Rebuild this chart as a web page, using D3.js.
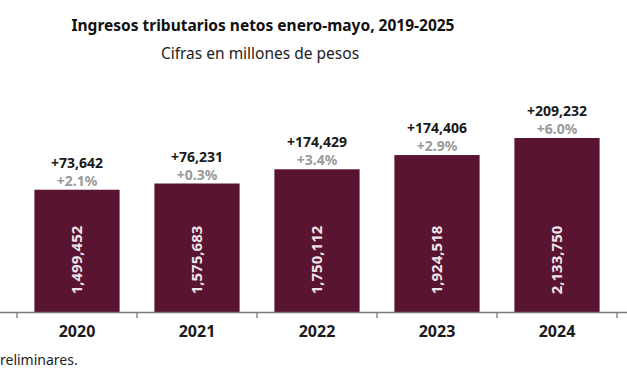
<!DOCTYPE html>
<html>
<head>
<meta charset="utf-8">
<script src="https://cdn.jsdelivr.net/npm/d3@7"></script>
<style>
  body { margin: 0; background: #fff; }
  svg { display: block; font-family: "Noto Sans", "Open Sans", sans-serif; }
</style>
</head>
<body>
<div id="chart"></div>
<script>
var years = ["2020", "2021", "2022", "2023", "2024"]
var totals = [1499452, 1575683, 1750112, 1924518, 2133750]
var changes = ["+73,642", "+76,231", "+174,429", "+174,406", "+209,232"]
var pcts = ["+2.1%", "+0.3%", "+3.4%", "+2.9%", "+6.0%"]

var width = 627, height = 376
var baseY = 312

var svg = d3.select("#chart").append("svg")
  .attr("width", width)
  .attr("height", height)

var data = years.map(function (d, i) {
  return { year: d, total: totals[i], change: changes[i], pct: pcts[i] }
})

var xScale = d3.scaleBand()
  .domain(years)
  .range([17, 617])
  .paddingInner(0.29)
  .paddingOuter(0.145)

var yScale = d3.scaleLinear()
  .domain([0, d3.max(totals)])
  .range([baseY, 138])

// title
svg.append("text")
  .attr("x", 263).attr("y", 31)
  .attr("text-anchor", "middle")
  .style("font-size", "15.5px").style("font-weight", "bold").style("fill", "#111")
  .text("Ingresos tributarios netos enero-mayo, 2019-2025")

svg.append("text")
  .attr("x", 260).attr("y", 59)
  .attr("text-anchor", "middle")
  .style("font-size", "15.5px").style("fill", "#222")
  .text("Cifras en millones de pesos")

var g = svg.append("g")

g.selectAll("rect")
  .data(data)
  .enter()
  .append("rect")
    .attr("x", d => xScale(d.year))
    .attr("y", d => yScale(d.total))
    .attr("width", xScale.bandwidth())
    .attr("height", d => baseY - yScale(d.total))
    .style("fill", "#581430")

// value inside bar, rotated
g.selectAll(".inner")
  .data(data)
  .enter()
  .append("text")
    .attr("class", "inner")
    .attr("transform", d => "translate(" + (xScale(d.year) + xScale.bandwidth() / 2 + 5) + ",260) rotate(-90)")
    .attr("text-anchor", "middle")
    .style("font-size", "15px").style("font-weight", "bold").style("fill", "#f0e4ea")
    .text(d => d3.format(",")(d.total))

g.selectAll(".chg")
  .data(data)
  .enter()
  .append("text")
    .attr("class", "chg")
    .attr("x", d => xScale(d.year) + xScale.bandwidth() / 2)
    .attr("y", d => yScale(d.total) - 22)
    .attr("text-anchor", "middle")
    .style("font-size", "14px").style("font-weight", "bold").style("fill", "#1a1a1a")
    .text(d => d.change)

g.selectAll(".pct")
  .data(data)
  .enter()
  .append("text")
    .attr("class", "pct")
    .attr("x", d => xScale(d.year) + xScale.bandwidth() / 2)
    .attr("y", d => yScale(d.total) - 4)
    .attr("text-anchor", "middle")
    .style("font-size", "14px").style("font-weight", "bold").style("fill", "#9a9a9a")
    .text(d => d.pct)

// axis line spans the whole width
svg.append("line")
  .attr("x1", 0).attr("x2", width)
  .attr("y1", baseY + 0.5).attr("y2", baseY + 0.5)
  .style("stroke", "#7a7a7a").style("stroke-width", 1.3)

var tickX = years.map(d => xScale(d) - xScale.step() * xScale.paddingInner() / 2)
tickX.push(xScale(years[years.length - 1]) + xScale.bandwidth() + xScale.step() * xScale.paddingInner() / 2)

svg.selectAll(".tick")
  .data(tickX)
  .enter()
  .append("line")
    .attr("x1", d => d).attr("x2", d => d)
    .attr("y1", baseY).attr("y2", baseY + 6)
    .style("stroke", "#7a7a7a").style("stroke-width", 1.3)

svg.selectAll(".year")
  .data(years)
  .enter()
  .append("text")
    .attr("x", d => xScale(d) + xScale.bandwidth() / 2)
    .attr("y", 337)
    .attr("text-anchor", "middle")
    .style("font-size", "16px").style("font-weight", "bold").style("fill", "#1a1a1a")
    .text(d => d)

svg.append("text")
  .attr("x", 0).attr("y", 365)
  .style("font-size", "14px").style("fill", "#222")
  .text("reliminares.")
</script>
</body>
</html>
